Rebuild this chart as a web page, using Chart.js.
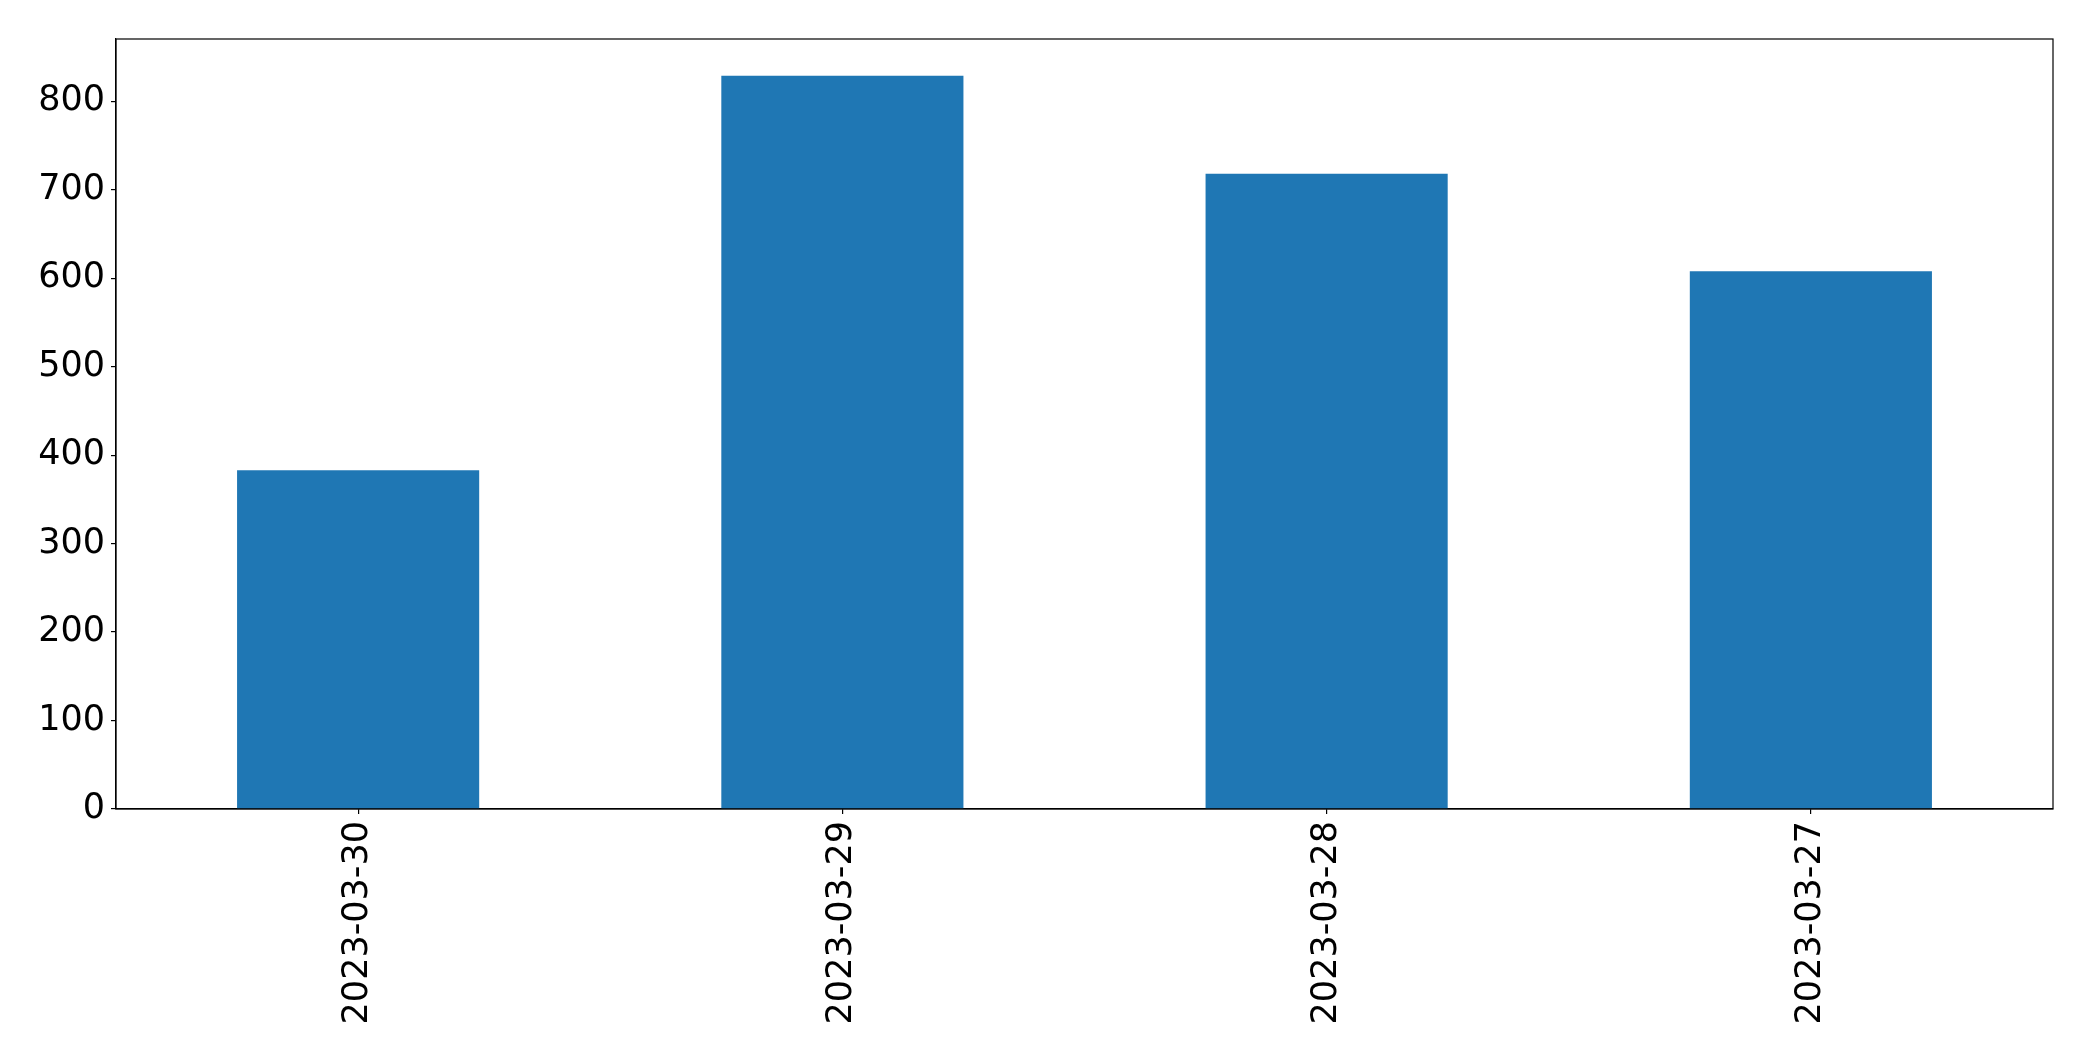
<!DOCTYPE html>
<html>
<head>
<meta charset="utf-8">
<script src="https://cdn.jsdelivr.net/npm/chart.js@4/dist/chart.umd.min.js"></script>
<style>
  html, body { margin: 0; padding: 0; background: #fff; }
  #myChart { display: block; }
</style>
</head>
<body>
<canvas id="myChart" width="2093" height="1061"></canvas>
<script>
// data
const labels = ['2023-03-30', '2023-03-29', '2023-03-28', '2023-03-27'];
const counts = [383, 829, 718, 608];
const yTicks = [0, 100, 200, 300, 400, 500, 600, 700, 800];

const tickFont = { family: 'DejaVu Sans', size: 35 };

// box round the plot area, like the matplotlib spines
const frame = {
    id: 'frame',
    afterDraw(chart) {
        const a = chart.chartArea;
        const ctx = chart.ctx;
        ctx.save();
        ctx.strokeStyle = '#000';
        ctx.lineWidth = 1.2;
        ctx.strokeRect(a.left, a.top, a.right - a.left, a.bottom - a.top);
        ctx.restore();
    }
};

const data = {
    labels: labels,
    datasets: [{
        data: counts,
        backgroundColor: '#1f77b4',
        borderWidth: 0,
        categoryPercentage: 1.0,
        barPercentage: 0.5,
    }]
};

const config = {
    type: 'bar',
    data: data,
    plugins: [frame],
    options: {
        responsive: false,
        animation: false,
        devicePixelRatio: 1,
        layout: { padding: { top: 39, right: 40, left: 0, bottom: 0 } },
        plugins: {
            legend: { display: false },
            tooltip: { enabled: false },
        },
        scales: {
            x: {
                grid: { offset: false, drawOnChartArea: false, drawTicks: true, tickLength: 5, color: '#000', lineWidth: 1.2 },
                border: { display: true, color: '#000', width: 1.2 },
                ticks: {
                    color: '#000',
                    font: tickFont,
                    minRotation: 90,
                    maxRotation: 90,
                    padding: 7,
                    autoSkip: false,
                },
                afterFit(scale) { scale.height = 252; },
            },
            y: {
                min: 0,
                max: Math.max(...counts) * 1.05,
                grid: { drawOnChartArea: false, drawTicks: true, tickLength: 5, color: '#000', lineWidth: 1.2 },
                border: { display: true, color: '#000', width: 1.2 },
                ticks: {
                    color: '#000',
                    font: tickFont,
                    padding: 6,
                    stepSize: 100,
                },
                afterBuildTicks(scale) {
                    scale.ticks = yTicks.map(v => ({ value: v }));
                },
                afterFit(scale) { scale.width = 116; },
            }
        }
    }
};

const myChart = new Chart(document.getElementById('myChart'), config);
</script>
</body>
</html>
